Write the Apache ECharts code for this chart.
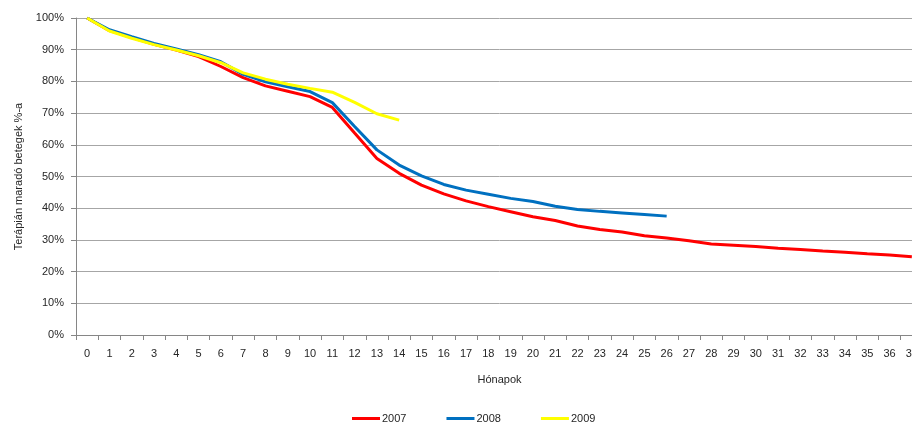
<!DOCTYPE html>
<html>
<head>
<meta charset="utf-8">
<script src="https://cdn.jsdelivr.net/npm/echarts@6/dist/echarts.min.js"></script>
<style>
  html, body { margin: 0; padding: 0; background: #fff; overflow: hidden; }
  /* the plot runs past the right window edge, so the last month is cut off */
  #chart { width: 923px; height: 426px; }
</style>
</head>
<body>
<div id="chart"></div>
<script>
// Months on therapy (x axis categories)
const months = [];
for (let m = 0; m <= 37; m++) months.push(String(m));

// Share of patients remaining on therapy (%), by starting year
const y2007 = [100, 96, 93.8, 91.7, 89.9, 87.8, 84.7, 81.2, 78.6, 76.9, 75.2, 71.8, 63.7, 55.7, 51.0,
  47.3, 44.5, 42.3, 40.5, 38.9, 37.3, 36.1, 34.4, 33.3, 32.5, 31.3, 30.6, 29.7, 28.7, 28.3,
  27.9, 27.4, 27.0, 26.5, 26.1, 25.6, 25.2, 24.7];
const y2008 = [100, 96.3, 94.1, 92.0, 90.2, 88.4, 86.2, 82.2, 79.9, 78.3, 76.8, 73.3, 65.8, 58.4, 53.6,
  50.2, 47.5, 45.7, 44.4, 43.1, 42.1, 40.6, 39.6, 39.0, 38.5, 38.0, 37.5];
const y2009 = [100, 95.9, 93.6, 91.6, 89.9, 88.1, 85.9, 82.7, 80.7, 79.1, 77.8, 76.6, 73.4, 69.8, 67.8];

const seriesNames = ['2007', '2008', '2009'];
const seriesColors = ['#FF0000', '#0070C0', '#FFFF00'];
const seriesData = [y2007, y2008, y2009];

const FONT = '"Liberation Sans", Arial, sans-serif';
const TEXT = '#262626';

const chart = echarts.init(document.getElementById('chart'), null, { renderer: 'canvas' });

chart.setOption({
  animation: false,
  backgroundColor: '#ffffff',
  grid: { left: 76, top: 18, right: 0, bottom: 91, containLabel: false },
  legend: {
    left: 352,
    top: 413,
    padding: 0,
    icon: 'rect',
    itemWidth: 28,
    itemHeight: 3,
    itemGap: 40,
    textStyle: { fontFamily: FONT, fontSize: 11, color: TEXT, padding: [0, 0, 0, -3] },
    data: seriesNames
  },
  xAxis: {
    type: 'category',
    data: months,
    boundaryGap: true,
    name: 'Hónapok',
    nameLocation: 'middle',
    nameGap: 39,
    nameTextStyle: { fontFamily: FONT, fontSize: 11, color: TEXT },
    axisLine: { lineStyle: { color: '#868686', width: 1 } },
    axisTick: { show: true, length: 5, lineStyle: { color: '#868686' }, alignWithLabel: false },
    axisLabel: { interval: 0, margin: 13, fontFamily: FONT, fontSize: 11, color: TEXT },
    splitLine: { show: false }
  },
  yAxis: {
    type: 'value',
    min: 0,
    max: 100,
    interval: 10,
    name: 'Terápián maradó betegek %-a',
    nameLocation: 'middle',
    nameGap: 52,
    nameRotate: 90,
    nameTextStyle: { fontFamily: FONT, fontSize: 11, color: TEXT },
    axisLine: { show: true, lineStyle: { color: '#868686', width: 1 } },
    axisTick: { show: true, length: 5, lineStyle: { color: '#868686' } },
    axisLabel: { formatter: '{value}%', margin: 12, fontFamily: FONT, fontSize: 11, color: TEXT },
    splitLine: { show: true, lineStyle: { color: '#A6A6A6', width: 1 } }
  },
  series: seriesNames.map((name, i) => ({
    name: name,
    type: 'line',
    data: seriesData[i],
    showSymbol: false,
    symbol: 'none',
    smooth: false,
    lineStyle: { color: seriesColors[i], width: 3 },
    itemStyle: { color: seriesColors[i] },
    z: 2 + i
  }))
});
</script>
</body>
</html>
